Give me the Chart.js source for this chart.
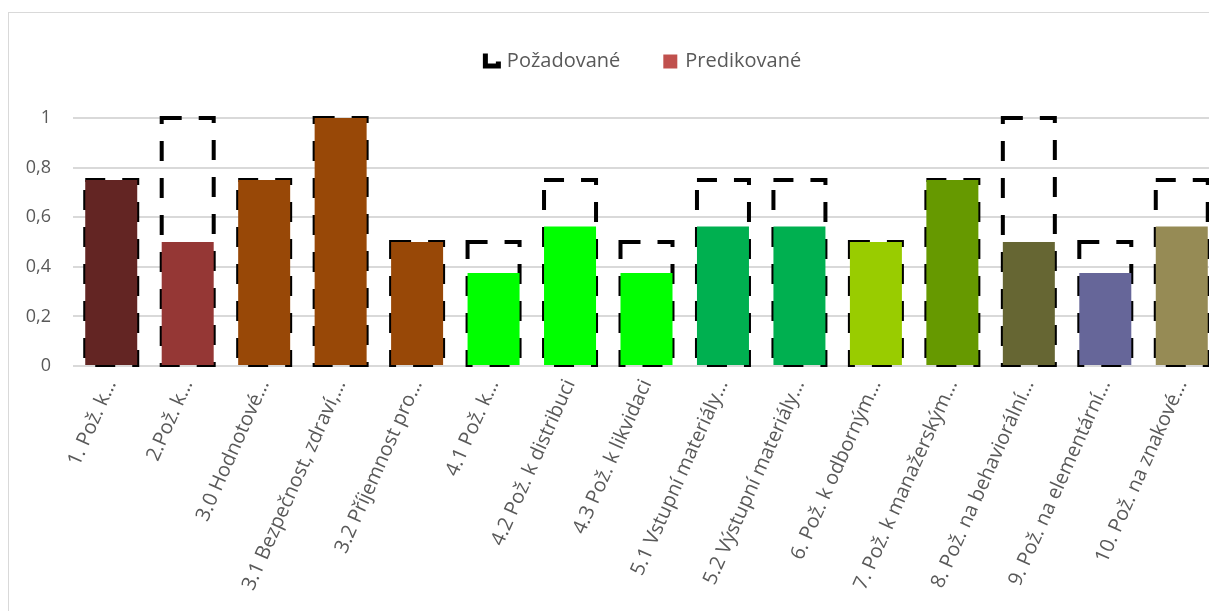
<!DOCTYPE html>
<html lang="cs">
<head>
    <meta charset="UTF-8">
    <title>Požadované vs Predikované</title>
    <style>
        html, body { margin: 0; padding: 0; background: #fff; overflow: hidden; }
        #wrap {
            position: absolute;
            left: 8px;
            top: 12px;
            width: 1270px;
            height: 620px;
            border: 1px solid #d9d9d9;
            overflow: hidden;
        }
        #myChart { display: block; margin-top: -7px; }
    </style>
</head>
<body>
    <div id="wrap"><canvas id="myChart" width="1270" height="627"></canvas></div>

    <script src="https://cdn.jsdelivr.net/npm/chart.js"></script>

    <script>
const categories = [
  '1. Pož. k…', '2.Pož. k…', '3.0 Hodnotové…', '3.1 Bezpečnost, zdraví,…',
  '3.2 Příjemnost pro…', '4.1 Pož. k…', '4.2 Pož. k distribuci', '4.3 Pož. k likvidaci',
  '5.1 Vstupní materiály…', '5.2 Výstupní materiály…', '6. Pož. k odborným…',
  '7. Pož. k manažerským…', '8. Pož. na behaviorální…', '9. Pož. na elementární…',
  '10. Pož. na znakové…'
];
const pozadovane = [0.75, 1, 0.75, 1, 0.5, 0.5, 0.75, 0.5, 0.75, 0.75, 0.5, 0.75, 1, 0.5, 0.75];
const predikovane = [0.75, 0.5, 0.75, 1, 0.5, 0.375, 0.5625, 0.375, 0.5625, 0.5625, 0.5, 0.75, 0.5, 0.375, 0.5625];
const barColors = [
  '#632523', '#953735', '#984807', '#984807', '#984807',
  '#00ff00', '#00ff00', '#00ff00', '#00b050', '#00b050',
  '#99cc00', '#669900', '#666633', '#666699', '#968b55'
];
const yTicks = [0, 0.2, 0.4, 0.6, 0.8, 1];

const FONT = '"Open Sans", "Noto Sans", sans-serif';
const GREY = '#595959';

// legend icons
function icon(draw) {
  const c = document.createElement('canvas');
  c.width = 20; c.height = 17;
  draw(c.getContext('2d'));
  return c;
}
const dashIcon = icon(g => {
  g.fillStyle = '#000';
  g.fillRect(1, 1, 5, 15);
  g.fillRect(1, 11, 18, 5);
  g.fillRect(14, 9, 5, 7);
});
const fillIcon = icon(g => {
  g.fillStyle = '#c0504d';
  g.fillRect(3, 2, 14, 14);
});

// dashed outlines for the "Požadované" series, behind the filled bars
const dashedBoxes = {
  id: 'dashedBoxes',
  beforeDatasetsDraw(chart) {
    const meta = chart.getDatasetMeta(0);
    const c = chart.ctx;
    c.save();
    c.strokeStyle = '#000';
    c.lineWidth = 4;
    c.setLineDash([20, 17]);
    meta.data.forEach(bar => {
      const p = bar.getProps(['x', 'y', 'base', 'width'], true);
      c.strokeRect(p.x - p.width / 2, p.y, p.width, p.base - p.y);
    });
    c.restore();
  }
};

const legendGap = {
  id: 'legendGap',
  beforeInit(chart) {
    const fit = chart.legend.fit;
    chart.legend.fit = function () {
      fit.bind(chart.legend)();
      this.height += 37;
    };
  }
};

Chart.defaults.font.family = FONT;
Chart.defaults.color = GREY;

new Chart(document.getElementById('myChart'), {
  type: 'bar',
  data: {
    labels: categories,
    datasets: [{
      label: 'Požadované',
      data: pozadovane,
      backgroundColor: 'rgba(0,0,0,0)',
      borderWidth: 0,
      grouped: false,
      order: 2
    }, {
      label: 'Predikované',
      data: predikovane,
      backgroundColor: barColors,
      borderWidth: 0,
      grouped: false,
      order: 1
    }]
  },
  options: {
    responsive: false,
    animation: false,
    barPercentage: 0.68,
    categoryPercentage: 1,
    layout: { padding: 0 },
    plugins: {
      tooltip: { enabled: false },
      legend: {
        position: 'top',
        labels: {
          usePointStyle: true,
          boxWidth: 10,
          generateLabels: chart => [
            { text: 'Požadované', pointStyle: dashIcon, datasetIndex: 0, fontColor: GREY, lineWidth: 0 },
            { text: 'Predikované', pointStyle: fillIcon, datasetIndex: 1, fontColor: GREY, lineWidth: 0 }
          ],
          font: { size: 20 },
          padding: 45,
          color: GREY
        }
      }
    },
    scales: {
      x: {
        grid: { display: false },
        border: { display: false },
        ticks: {
          font: { size: 20 },
          color: GREY,
          minRotation: 66,
          maxRotation: 66,
          autoSkip: false,
          padding: 2
        },
        afterFit: s => { s.height = 267; }
      },
      y: {
        min: 0,
        max: 1,
        afterBuildTicks: s => { s.ticks = yTicks.map(v => ({ value: v })); },
        grid: { color: '#d9d9d9', lineWidth: 2, drawTicks: false },
        border: { display: false },
        ticks: {
          font: { size: 18 },
          color: GREY,
          padding: 22,
          callback: v => String(Math.round(v * 10) / 10).replace('.', ',')
        },
        afterFit: s => { s.width = 64; }
      },
      // empty right-hand spacer, the plot runs past the visible frame
      yRight: {
        position: 'right',
        min: 0,
        max: 1,
        grid: { display: false },
        border: { display: false },
        ticks: { display: false },
        afterFit: s => { s.width = 59; }
      }
    }
  },
  plugins: [dashedBoxes, legendGap]
});
    </script>
</body>
</html>
